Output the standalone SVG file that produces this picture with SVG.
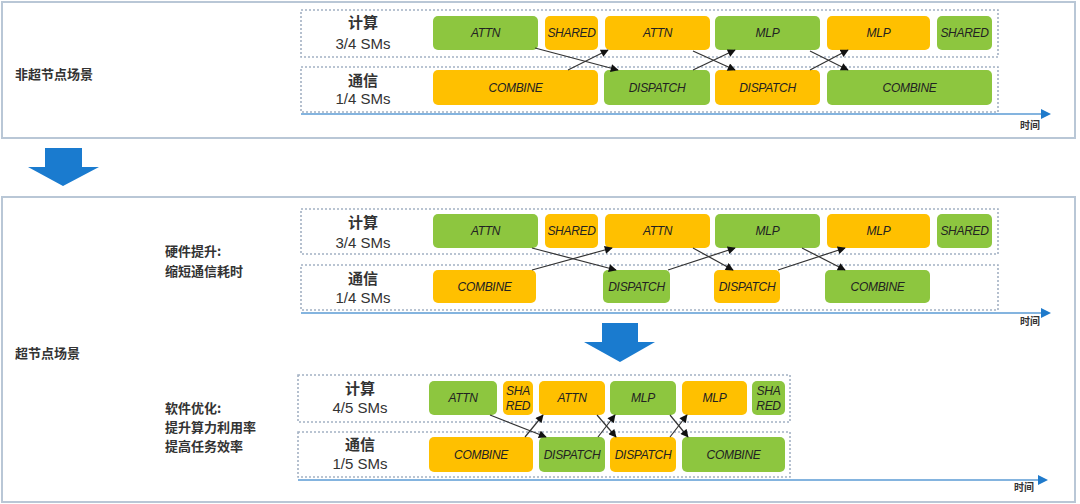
<svg xmlns="http://www.w3.org/2000/svg" width="1080" height="504" viewBox="0 0 1080 504">
<defs>
<style>
.frame{fill:#fff;stroke:#b9c7d6;stroke-width:2}
.lane{fill:none;stroke:#a3b1c3;stroke-width:1.6;stroke-dasharray:2 2}
.g{fill:#8dc63f}
.o{fill:#ffc000}
.bt{font-family:"Liberation Sans",Arial,sans-serif;font-size:12px;font-style:italic;fill:#222;text-anchor:middle;dominant-baseline:central;letter-spacing:-0.3px}
.rl{font-family:"Liberation Sans","Noto Sans CJK SC",sans-serif;font-size:15px;fill:#333;text-anchor:middle;dominant-baseline:central}
.cj{font-family:"Noto Sans CJK SC","Liberation Sans",sans-serif;font-weight:bold;fill:#333}
.sl{font-size:13px;dominant-baseline:central}
.tm{font-size:10px;text-anchor:middle}
.axis{stroke:#5b9bd5;stroke-width:1.6;fill:none}
.dep{stroke:#333;stroke-width:1.2;fill:none;marker-end:url(#ah)}
.big{fill:#1a7bcf}
</style>
<marker id="ah" viewBox="0 0 10 10" refX="9" refY="5" markerWidth="9" markerHeight="8" markerUnits="userSpaceOnUse" orient="auto">
<path d="M0,0 L10,5 L0,10 z" fill="#111"/>
</marker>
<marker id="tah" viewBox="0 0 10 10" refX="2" refY="5" markerWidth="10" markerHeight="10" markerUnits="userSpaceOnUse" orient="auto">
<path d="M0,0 L10,5 L0,10 z" fill="#1f7acb"/>
</marker>
</defs>

<!-- Frames -->
<rect class="frame" x="2" y="2" width="1073" height="136"/>
<rect class="frame" x="2" y="197" width="1073" height="305"/>

<!-- Big arrows -->
<path class="big" d="M45,148 H82 V167 H99 L63,186 L28,167 H45 Z"/>
<path class="big" d="M602,323 H638 V342 H655 L620,362 L584,342 H602 Z"/>

<!-- Section labels -->
<text class="cj sl" x="15" y="73">非超节点场景</text>
<text class="cj sl" x="15" y="352">超节点场景</text>
<text class="cj sl" x="165" y="250">硬件提升:</text>
<text class="cj sl" x="165" y="270">缩短通信耗时</text>
<text class="cj sl" x="165" y="407">软件优化:</text>
<text class="cj sl" x="165" y="426">提升算力利用率</text>
<text class="cj sl" x="165" y="445">提高任务效率</text>

<!-- Section 1 -->
<g id="s1">
<rect class="lane" x="301" y="10" width="697" height="47"/>
<rect class="lane" x="301" y="67" width="697" height="45"/>
<text class="rl" x="363" y="22" font-weight="600">计算</text>
<text class="rl" x="363" y="43">3/4 SMs</text>
<text class="rl" x="363" y="80" font-weight="600">通信</text>
<text class="rl" x="363" y="98">1/4 SMs</text>
<path class="axis" d="M301,114 H1043" marker-end="url(#tah)"/>
<text class="cj tm" x="1030" y="129">时间</text>
</g>
<g id="s1-attn1"><rect class="g" x="433" y="16" width="105" height="34" rx="5"/><text class="bt" x="485.5" y="33">ATTN</text></g>
<g id="s1-shared1"><rect class="o" x="545" y="16" width="53" height="34" rx="5"/><text class="bt" x="571.5" y="33">SHARED</text></g>
<g id="s1-attn2"><rect class="o" x="605" y="16" width="105" height="34" rx="5"/><text class="bt" x="657.5" y="33">ATTN</text></g>
<g id="s1-mlp1"><rect class="g" x="715" y="16" width="105" height="34" rx="5"/><text class="bt" x="767.5" y="33">MLP</text></g>
<g id="s1-mlp2"><rect class="o" x="827" y="16" width="103" height="34" rx="5"/><text class="bt" x="878.5" y="33">MLP</text></g>
<g id="s1-shared2"><rect class="g" x="937" y="16" width="55" height="34" rx="5"/><text class="bt" x="964.5" y="33">SHARED</text></g>
<g id="s1-combine1"><rect class="o" x="433" y="70" width="165" height="35" rx="5"/><text class="bt" x="515.5" y="87.5">COMBINE</text></g>
<g id="s1-dispatch1"><rect class="g" x="604" y="70" width="106" height="35" rx="5"/><text class="bt" x="657" y="87.5">DISPATCH</text></g>
<g id="s1-dispatch2"><rect class="o" x="715" y="70" width="105" height="35" rx="5"/><text class="bt" x="767.5" y="87.5">DISPATCH</text></g>
<g id="s1-combine2"><rect class="g" x="827" y="70" width="165" height="35" rx="5"/><text class="bt" x="909.5" y="87.5">COMBINE</text></g>

<!-- Section 2 -->
<g id="s2">
<rect class="lane" x="301" y="209" width="697" height="45"/>
<rect class="lane" x="301" y="265" width="697" height="45"/>
<text class="rl" x="363" y="222" font-weight="600">计算</text>
<text class="rl" x="363" y="242">3/4 SMs</text>
<text class="rl" x="363" y="278" font-weight="600">通信</text>
<text class="rl" x="363" y="297">1/4 SMs</text>
<path class="axis" d="M301,313 H1043" marker-end="url(#tah)"/>
<text class="cj tm" x="1030" y="325">时间</text>
</g>
<g id="s2-attn1"><rect class="g" x="433" y="214" width="105" height="34" rx="5"/><text class="bt" x="485.5" y="231">ATTN</text></g>
<g id="s2-shared1"><rect class="o" x="545" y="214" width="53" height="34" rx="5"/><text class="bt" x="571.5" y="231">SHARED</text></g>
<g id="s2-attn2"><rect class="o" x="605" y="214" width="105" height="34" rx="5"/><text class="bt" x="657.5" y="231">ATTN</text></g>
<g id="s2-mlp1"><rect class="g" x="715" y="214" width="105" height="34" rx="5"/><text class="bt" x="767.5" y="231">MLP</text></g>
<g id="s2-mlp2"><rect class="o" x="827" y="214" width="103" height="34" rx="5"/><text class="bt" x="878.5" y="231">MLP</text></g>
<g id="s2-shared2"><rect class="g" x="937" y="214" width="55" height="34" rx="5"/><text class="bt" x="964.5" y="231">SHARED</text></g>
<g id="s2-combine1"><rect class="o" x="433" y="270" width="103" height="33" rx="5"/><text class="bt" x="484.5" y="286.5">COMBINE</text></g>
<g id="s2-dispatch1"><rect class="g" x="603" y="270" width="67" height="33" rx="5"/><text class="bt" x="636.5" y="286.5">DISPATCH</text></g>
<g id="s2-dispatch2"><rect class="o" x="714" y="270" width="66" height="33" rx="5"/><text class="bt" x="747" y="286.5">DISPATCH</text></g>
<g id="s2-combine2"><rect class="g" x="825" y="270" width="105" height="33" rx="5"/><text class="bt" x="877.5" y="286.5">COMBINE</text></g>

<!-- Section 3 -->
<g id="s3">
<rect class="lane" x="298" y="375" width="492" height="47"/>
<rect class="lane" x="298" y="432" width="492" height="45"/>
<text class="rl" x="360" y="388" font-weight="600">计算</text>
<text class="rl" x="360" y="407">4/5 SMs</text>
<text class="rl" x="360" y="444" font-weight="600">通信</text>
<text class="rl" x="360" y="463">1/5 SMs</text>
<path class="axis" d="M298,480 H1040" marker-end="url(#tah)"/>
<text class="cj tm" x="1024" y="491">时间</text>
</g>
<g id="s3-attn1"><rect class="g" x="429" y="381" width="68" height="34" rx="5"/><text class="bt" x="463" y="398">ATTN</text></g>
<g id="s3-shared1"><rect class="o" x="503" y="381" width="30" height="34" rx="5"/><text class="bt" x="518" y="391">SHA</text><text class="bt" x="518" y="406">RED</text></g>
<g id="s3-attn2"><rect class="o" x="539" y="381" width="66" height="34" rx="5"/><text class="bt" x="572" y="398">ATTN</text></g>
<g id="s3-mlp1"><rect class="g" x="610" y="381" width="66" height="34" rx="5"/><text class="bt" x="643" y="398">MLP</text></g>
<g id="s3-mlp2"><rect class="o" x="682" y="381" width="65" height="34" rx="5"/><text class="bt" x="714.5" y="398">MLP</text></g>
<g id="s3-shared2"><rect class="g" x="752" y="381" width="33" height="34" rx="5"/><text class="bt" x="768.5" y="391">SHA</text><text class="bt" x="768.5" y="406">RED</text></g>
<g id="s3-combine1"><rect class="o" x="429" y="437" width="104" height="35" rx="5"/><text class="bt" x="481" y="454.5">COMBINE</text></g>
<g id="s3-dispatch1"><rect class="g" x="539" y="437" width="66" height="35" rx="5"/><text class="bt" x="572" y="454.5">DISPATCH</text></g>
<g id="s3-dispatch2"><rect class="o" x="610" y="437" width="66" height="35" rx="5"/><text class="bt" x="643" y="454.5">DISPATCH</text></g>
<g id="s3-combine2"><rect class="g" x="682" y="437" width="103" height="35" rx="5"/><text class="bt" x="733.5" y="454.5">COMBINE</text></g>

<!-- Connectors -->
<g id="connectors">
<line class="dep" x1="535" y1="48" x2="618" y2="70"/>
<line class="dep" x1="568" y1="70" x2="608" y2="50"/>
<line class="dep" x1="693" y1="51" x2="735" y2="70"/>
<line class="dep" x1="693" y1="70" x2="735" y2="50"/>
<line class="dep" x1="810" y1="51" x2="848" y2="70"/>
<line class="dep" x1="810" y1="70" x2="848" y2="50"/>

<line class="dep" x1="532" y1="248" x2="616" y2="270"/>
<line class="dep" x1="532" y1="270" x2="612" y2="248"/>
<line class="dep" x1="693" y1="248" x2="733" y2="270"/>
<line class="dep" x1="668" y1="270" x2="735" y2="248"/>
<line class="dep" x1="802" y1="248" x2="845" y2="270"/>
<line class="dep" x1="778" y1="270" x2="845" y2="248"/>

<line class="dep" x1="490" y1="415" x2="546" y2="437"/>
<line class="dep" x1="525" y1="437" x2="543" y2="415"/>
<line class="dep" x1="597" y1="415" x2="616" y2="437"/>
<line class="dep" x1="598" y1="437" x2="615" y2="415"/>
<line class="dep" x1="670" y1="415" x2="688" y2="437"/>
<line class="dep" x1="670" y1="437" x2="687" y2="415"/>
</g>
</svg>
